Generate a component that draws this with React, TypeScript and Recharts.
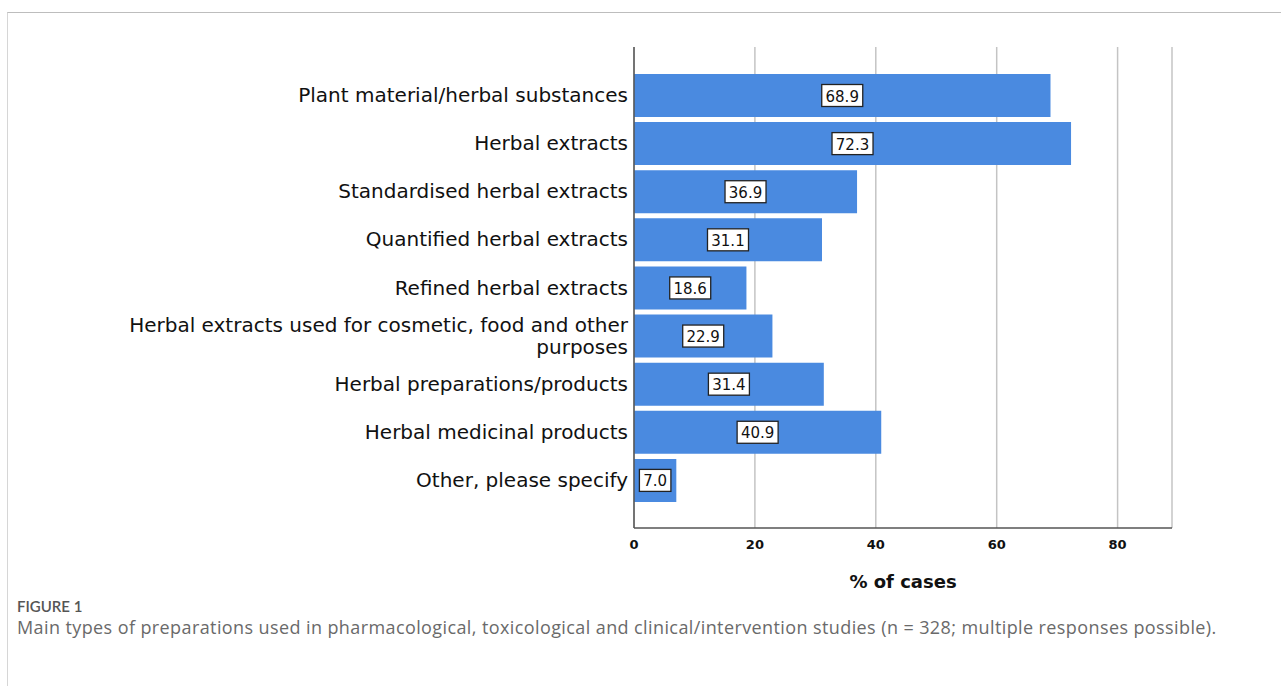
import { BarChart, Bar, XAxis, YAxis, CartesianGrid, LabelList } from "recharts";

const categories = [
  "Plant material/herbal substances",
  "Herbal extracts",
  "Standardised herbal extracts",
  "Quantified herbal extracts",
  "Refined herbal extracts",
  "Herbal extracts used for cosmetic, food and other purposes",
  "Herbal preparations/products",
  "Herbal medicinal products",
  "Other, please specify",
];
const percentCases = [68.9, 72.3, 36.9, 31.1, 18.6, 22.9, 31.4, 40.9, 7.0];
const xTicks = [0, 20, 40, 60, 80];

const data = categories.map((name, i) => ({ name, value: percentCases[i] }));

const FONT = "'DejaVu Sans', Verdana, sans-serif";
const BAR_COLOR = "#4a8ae0";

// long labels are split into two right-aligned lines
const tickLines = (label: string): string[] => {
  if (label.length < 40) return [label];
  const cut = label.lastIndexOf(" ");
  return [label.slice(0, cut), label.slice(cut + 1)];
};

const CategoryTick = (props: any) => {
  const { x, y, payload } = props;
  const lines = tickLines(String(payload.value));
  const lineH = 22;
  const startY = y - ((lines.length - 1) * lineH) / 2;
  return (
    <text
      x={x + 2}
      y={startY}
      textAnchor="end"
      dominantBaseline="central"
      fontFamily={FONT}
      fontSize={20}
      fill="#111"
    >
      {lines.map((l, i) => (
        <tspan key={i} x={x + 2} dy={i === 0 ? 0 : lineH}>
          {l}
        </tspan>
      ))}
    </text>
  );
};

const ValueBox = (props: any) => {
  const { x, y, width, height, value } = props;
  const cx = x + width / 2;
  const cy = y + height / 2;
  const txt = Number(value).toFixed(1);
  const w = txt.length * 9.5 + 3;
  const h = 22;
  return (
    <g>
      <rect
        x={cx - w / 2}
        y={cy - h / 2}
        width={w}
        height={h}
        fill="#fff"
        stroke="#222"
        strokeWidth={1.3}
      />
      <text
        x={cx}
        y={cy + 1}
        textAnchor="middle"
        dominantBaseline="central"
        fontFamily={FONT}
        fontSize={15}
        fill="#111"
      >
        {txt}
      </text>
    </g>
  );
};

export default function App() {
  return (
    <div
      style={{
        position: "absolute",
        left: 0,
        top: 0,
        width: 1281,
        height: 686,
        background: "#fff",
        overflow: "hidden",
      }}
    >
      {/* frame lines */}
      <div
        style={{
          position: "absolute",
          left: 7,
          top: 12,
          right: 0,
          bottom: -2,
          borderTop: "1px solid #bdbdbd",
          borderLeft: "1px solid #d6d6d6",
        }}
      />
      <BarChart
        width={1281}
        height={600}
        data={data}
        layout="vertical"
        margin={{ top: 47, right: 109, bottom: 0, left: 0 }}
        barSize={43}
        style={{ position: "absolute", left: 0, top: 0 }}
      >
        <CartesianGrid
          horizontal={false}
          stroke="#c4c4c4"
          strokeWidth={1.5}
        />
        <XAxis
          type="number"
          domain={[0, 89]}
          ticks={xTicks}
          allowDataOverflow
          axisLine={{ stroke: "#555", strokeWidth: 1.5 }}
          tickLine={false}
          tick={{ fontFamily: FONT, fontSize: 13, fill: "#111", fontWeight: 700 }}
          tickMargin={6}
          height={72}
          label={{
            value: "% of cases",
            position: "insideBottom",
            offset: 12,
            style: {
              fontFamily: FONT,
              fontSize: 18,
              fontWeight: 700,
              fill: "#111",
            },
          }}
        />
        <YAxis
          type="category"
          dataKey="name"
          width={634}
          padding={{ top: 24, bottom: 24 }}
          axisLine={{ stroke: "#555", strokeWidth: 1.5 }}
          tickLine={false}
          tick={<CategoryTick />}
          interval={0}
        />
        <Bar dataKey="value" fill={BAR_COLOR} isAnimationActive={false}>
          <LabelList dataKey="value" content={<ValueBox />} />
        </Bar>
      </BarChart>
      <div
        style={{
          position: "absolute",
          left: 17,
          top: 596,
          fontFamily: "'Open Sans', Lato, sans-serif",
          color: "#555",
          lineHeight: "21px",
        }}
      >
        <div style={{ fontWeight: 600, fontSize: 15, fontFamily: "Lato, sans-serif" }}>
          FIGURE 1
        </div>
        <div style={{ color: "#6a6a6a", fontSize: 18, letterSpacing: 0.4 }}>
          Main types of preparations used in pharmacological, toxicological and
          clinical/intervention studies (n = 328; multiple responses possible).
        </div>
      </div>
    </div>
  );
}
